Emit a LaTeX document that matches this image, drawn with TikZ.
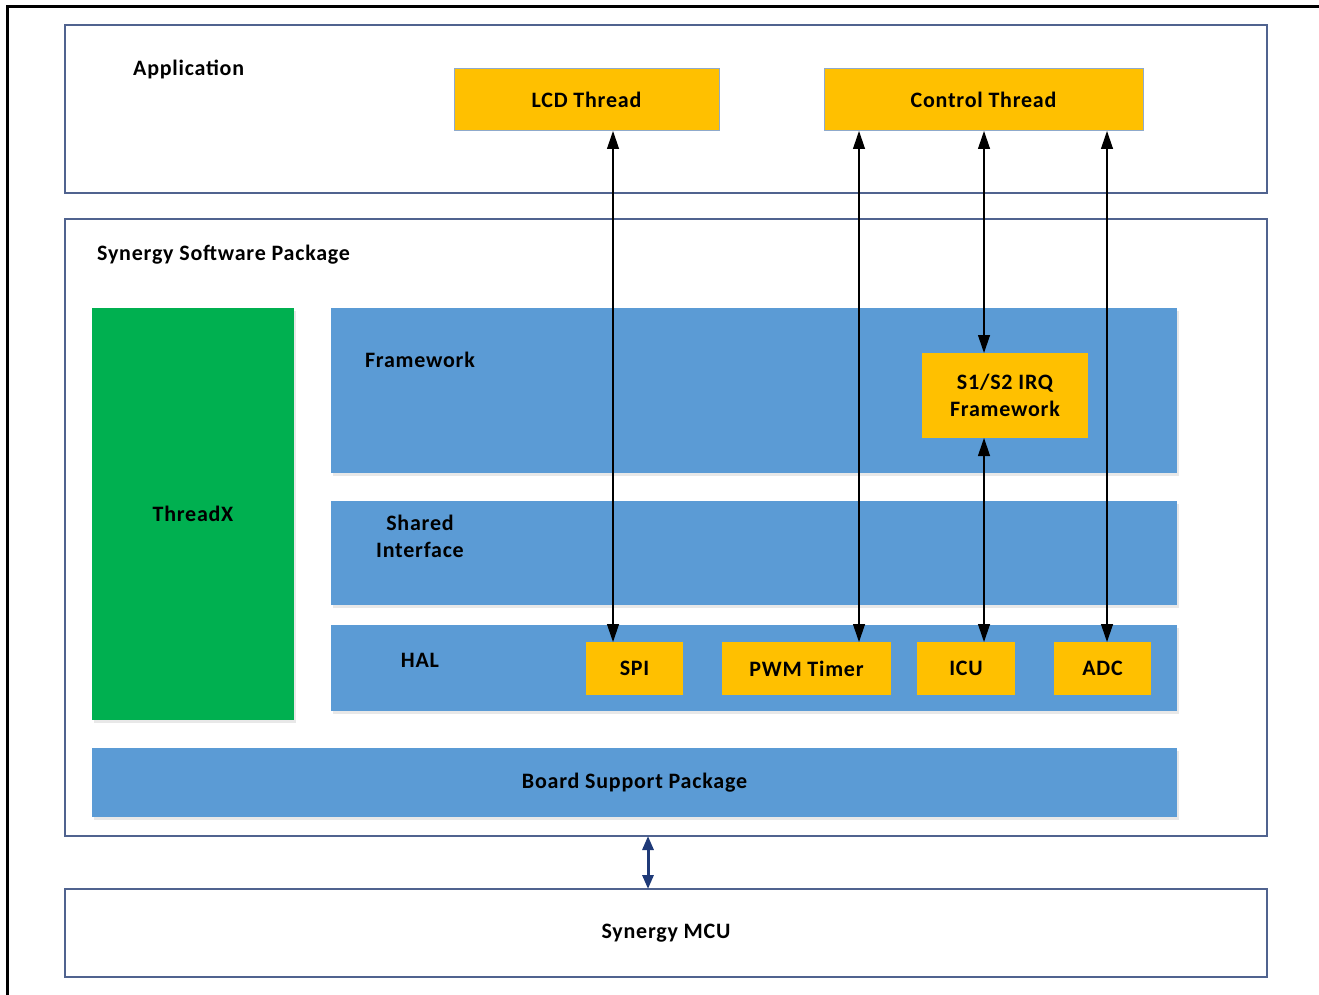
\documentclass[tikz,border=0pt]{standalone}
\usepackage{fontspec}
\setmainfont{Carlito}[LetterSpace=3.5]
\usetikzlibrary{arrows.meta, positioning, shadows}

\definecolor{blockorange}{HTML}{FFC000}
\definecolor{layerblue}{HTML}{5B9BD5}
\definecolor{rtosgreen}{HTML}{00B050}
\definecolor{frameblue}{HTML}{50638F}
\definecolor{edgeblue}{HTML}{8FAACB}
\definecolor{busnavy}{HTML}{1F3A78}

\tikzset{
	frame/.style={draw=frameblue, line width=2.5pt, fill=white, rectangle, anchor=north west, inner sep=0pt, outer sep=0pt},
	layer/.style={fill=layerblue, rectangle, anchor=north west, inner sep=0pt, outer sep=0pt,
		drop shadow={opacity=0.18, shadow xshift=2pt, shadow yshift=-3pt}},
	thread/.style={fill=blockorange, draw=edgeblue, line width=1pt, rectangle, anchor=north west, inner sep=0pt, outer sep=0pt},
	driver/.style={fill=blockorange, rectangle, anchor=north west, inner sep=0pt, outer sep=0pt},
	tag/.style={inner sep=0pt, align=center},
	link/.style={{Triangle[width=12pt,length=18pt]}-{Triangle[width=12pt,length=18pt]}, line width=1.2pt, black},
	bus/.style={{Triangle[width=11pt,length=14pt]}-{Triangle[width=11pt,length=14pt]}, line width=3pt, busnavy}
}

\begin{document}
\begin{tikzpicture}[x=1pt, y=-1pt, font=\fontsize{22}{27}\selectfont\bfseries]
		\useasboundingbox (0,0) rectangle (1319,995);
		
		%outer border
		\draw [line width=3pt] (7,995) -- (7,7) -- (1319,7);
		
		%x positions of the connectors
		\coordinate (xspi) at (613,0);
		\coordinate (xpwm) at (859,0);
		\coordinate (xirq) at (984,0);
		\coordinate (xadc) at (1107,0);
		
		%application
		\node [frame, minimum width=1202pt, minimum height=168pt] (app) at (65,25) {};
		\node [tag, anchor=west] (applabel) at (133,69) {Application};
		\node [thread, minimum width=265pt, minimum height=62pt] (lcd) at (454,69) {LCD Thread};
		\node [thread, minimum width=319pt, minimum height=62pt] (control) at (824,69) {Control Thread};
		
		%synergy software package
		\node [frame, minimum width=1202pt, minimum height=617pt] (ssp) at (65,219) {};
		\node [tag, anchor=west] (ssplabel) at (97,255) {Synergy Software Package};
		
		\node [layer, fill=rtosgreen, minimum width=202pt, minimum height=412pt] (threadx) at (92,308) {ThreadX};
		
		\node [layer, minimum width=846pt, minimum height=165pt] (framework) at (331,308) {};
		\node [tag] (frameworklabel) at (420,360) {Framework};
		\node [driver, minimum width=166pt, minimum height=85pt, align=center] (irq) at (922,353) {S1/S2 IRQ\\Framework};
		
		\node [layer, minimum width=846pt, minimum height=104pt] (shared) at (331,501) {};
		\node [tag] (sharedlabel) at (420,536) {Shared\\Interface};
		
		\node [layer, minimum width=846pt, minimum height=86pt] (hal) at (331,625) {};
		\node [tag] (hallabel) at (420,660) {HAL};
		\node [driver, minimum width=97pt, minimum height=53pt] (spi) at (586,642) {SPI};
		\node [driver, minimum width=169pt, minimum height=53pt] (pwm) at (722,642) {PWM Timer};
		\node [driver, minimum width=98pt, minimum height=53pt] (icu) at (917,642) {ICU};
		\node [driver, minimum width=97pt, minimum height=53pt] (adc) at (1054,642) {ADC};
		
		\node [layer, minimum width=1085pt, minimum height=69pt] (bsp) at (92,748) {Board Support Package};
		
		%mcu
		\node [frame, minimum width=1202pt, minimum height=88pt] (mcu) at (65,889) {Synergy MCU};
		
		%connectors
		\draw [link] (lcd.south -| xspi) -- (spi.north -| xspi);
		\draw [link] (control.south -| xpwm) -- (pwm.north -| xpwm);
		\draw [link] (control.south -| xirq) -- (irq.north -| xirq);
		\draw [link] (irq.south -| xirq) -- (icu.north -| xirq);
		\draw [link] (control.south -| xadc) -- (adc.north -| xadc);
		\draw [bus] (ssp.south -| 648,0) -- (mcu.north -| 648,0);

	\end{tikzpicture}
\end{document}
